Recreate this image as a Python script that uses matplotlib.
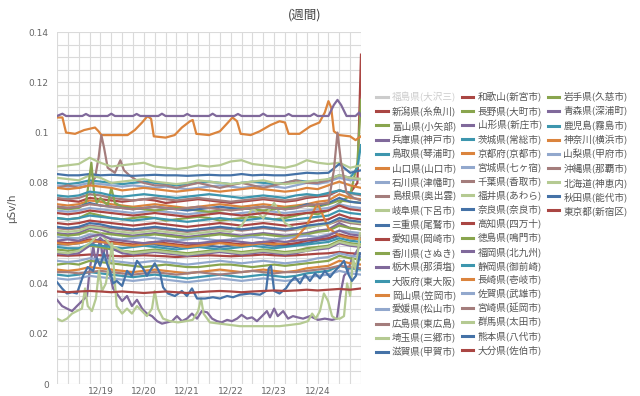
import matplotlib
matplotlib.use('Agg')
import matplotlib.pyplot as plt
from matplotlib.lines import Line2D

# time axis: hours since 12/18 00:00
H6 = list(range(0, 169, 6))
H_END = list(range(0, 163, 6)) + [166, 168]
day_ticks = [24, 48, 72, 96, 120, 144]
day_labels = ['12/19', '12/20', '12/21', '12/22', '12/23', '12/24']

# Highcharts (v2) default palette
palette = ['#4572A7', '#AA4643', '#89A54E', '#80699B', '#3D96AE',
           '#DB843D', '#92A8CD', '#A47D7C', '#B5CA92']

# ---- series values (uSv/h) ----
niigata = [0.0735, 0.073, 0.0725, 0.074, 0.0735, 0.073, 0.0725, 0.073, 0.0735, 0.073, 0.072, 0.0725, 0.073, 0.0735, 0.073,
           0.0725, 0.072, 0.0725, 0.073, 0.0735, 0.073, 0.0725, 0.073, 0.074, 0.0745, 0.075, 0.077, 0.076, 0.080, 0.131]
toyama = [0.066, 0.0655, 0.066, 0.068, 0.067, 0.066, 0.0655, 0.066, 0.0665, 0.066, 0.065, 0.0655, 0.066, 0.0665, 0.066,
          0.065, 0.0655, 0.066, 0.0665, 0.066, 0.0655, 0.066, 0.067, 0.068, 0.0675, 0.069, 0.072, 0.075, 0.088, 0.113]
hyogo = [0.060, 0.0595, 0.060, 0.062, 0.0615, 0.060, 0.0595, 0.059, 0.0595, 0.060, 0.0595, 0.059, 0.0585, 0.059, 0.0595,
         0.060, 0.0595, 0.059, 0.0595, 0.060, 0.0595, 0.059, 0.0595, 0.060, 0.061, 0.0615, 0.064, 0.062, 0.0615]
tottori = [0.080, 0.0795, 0.080, 0.081, 0.0805, 0.080, 0.0795, 0.080, 0.0805, 0.080, 0.0795, 0.079, 0.0795, 0.080, 0.0805,
           0.080, 0.0795, 0.080, 0.0805, 0.080, 0.0795, 0.080, 0.081, 0.0805, 0.080, 0.0815, 0.083, 0.082, 0.086, 0.095]
yamaguchi_h = [0, 3, 5, 10, 15, 18, 21, 23, 24.5, 32, 39, 43, 47, 50, 52, 53.5, 60, 65, 69, 73.5, 75, 77, 84, 90, 94.5,
               97, 99.5, 101.5, 107, 112, 118, 123, 126, 128, 134, 140, 145, 148, 150, 151.5, 153, 156, 162, 165, 168]
yamaguchi = [0.106, 0.106, 0.100, 0.0995, 0.101, 0.1015, 0.102, 0.1005, 0.099, 0.099, 0.099, 0.101, 0.104, 0.1065, 0.1055,
             0.0985, 0.098, 0.099, 0.102, 0.1045, 0.105, 0.0995, 0.099, 0.1005, 0.104, 0.106, 0.1045, 0.0995, 0.099, 0.1005,
             0.103, 0.1045, 0.104, 0.0995, 0.0995, 0.1025, 0.104, 0.108, 0.1125, 0.110, 0.1005, 0.099, 0.0985, 0.097, 0.0985]
ishikawa = [0.079, 0.0785, 0.079, 0.080, 0.0795, 0.079, 0.0785, 0.079, 0.0785, 0.078, 0.0785, 0.078, 0.0775, 0.078, 0.0785,
            0.079, 0.0785, 0.078, 0.0785, 0.079, 0.0785, 0.078, 0.079, 0.080, 0.0795, 0.0805, 0.082, 0.081, 0.0815]
shimane_h = [0, 6, 12, 18, 21, 23, 24.5, 26, 28, 30, 32, 35, 37, 40, 44, 48, 54, 60, 66, 72, 78, 84, 90, 96, 102, 108,
             114, 120, 126, 132, 138, 144, 150, 156, 162, 168]
shimane = [0.078, 0.079, 0.078, 0.079, 0.082, 0.090, 0.099, 0.094, 0.086, 0.085, 0.084, 0.089, 0.085, 0.083, 0.081, 0.080,
           0.079, 0.079, 0.078, 0.079, 0.080, 0.079, 0.078, 0.079, 0.080, 0.079, 0.078, 0.079, 0.080, 0.081, 0.080, 0.080,
           0.081, 0.083, 0.082, 0.0815]
gifu = [0.0865, 0.087, 0.0875, 0.090, 0.088, 0.0865, 0.087, 0.0875, 0.088, 0.0865, 0.086, 0.0855, 0.086, 0.087, 0.0865,
        0.087, 0.0885, 0.089, 0.0875, 0.087, 0.0865, 0.086, 0.087, 0.089, 0.088, 0.0875, 0.088, 0.086, 0.087]
mie = [0.0555, 0.0555, 0.056, 0.057, 0.0565, 0.056, 0.0555, 0.055, 0.0555, 0.0555, 0.055, 0.0545, 0.055, 0.0555, 0.055,
       0.0545, 0.055, 0.0555, 0.056, 0.0555, 0.055, 0.055, 0.0555, 0.056, 0.057, 0.0575, 0.059, 0.058, 0.0575]
aichi = [0.0512, 0.051, 0.0512, 0.0515, 0.0512, 0.051, 0.0508, 0.051, 0.0512, 0.051, 0.0508, 0.0505, 0.0508, 0.051, 0.0512,
         0.051, 0.0508, 0.051, 0.0512, 0.0515, 0.0512, 0.051, 0.0512, 0.0515, 0.0518, 0.052, 0.0525, 0.052, 0.0518]
kagawa = [0.0595, 0.059, 0.0595, 0.061, 0.060, 0.0595, 0.059, 0.0585, 0.059, 0.0595, 0.059, 0.0585, 0.058, 0.0585, 0.059,
          0.0595, 0.059, 0.0585, 0.059, 0.0595, 0.059, 0.0585, 0.059, 0.0595, 0.0605, 0.061, 0.063, 0.062, 0.0615]
tochigi_h = [0, 3, 5, 14, 16, 18, 28, 30, 32, 42, 44, 46, 56, 58, 60, 70, 72, 74, 84, 86, 88, 98, 100, 102, 112, 114, 116,
             126, 128, 130, 140, 142, 144, 150, 153, 155, 157, 160, 165, 167, 168]
tochigi = [0.1066, 0.1075, 0.1066, 0.1066, 0.1074, 0.1066, 0.1066, 0.1075, 0.1066, 0.1066, 0.1074, 0.1066,
           0.1066, 0.1075, 0.1066, 0.1066, 0.1074, 0.1066, 0.1066, 0.1075, 0.1066, 0.1066, 0.1074, 0.1066,
           0.1066, 0.1075, 0.1066, 0.1066, 0.1074, 0.1066, 0.1066, 0.1075, 0.1066,
           0.1066, 0.111, 0.113, 0.111, 0.1066, 0.1066, 0.108, 0.1066]
osaka = [0.066, 0.0655, 0.066, 0.067, 0.0665, 0.066, 0.0655, 0.065, 0.0655, 0.066, 0.0655, 0.065, 0.0645, 0.065, 0.0655,
         0.066, 0.0655, 0.065, 0.0655, 0.066, 0.0655, 0.065, 0.0655, 0.066, 0.0665, 0.067, 0.069, 0.068, 0.0675]
okayama = [0.0715, 0.071, 0.0715, 0.073, 0.0725, 0.0715, 0.071, 0.0705, 0.071, 0.0715, 0.071, 0.0705, 0.070, 0.0705, 0.071,
           0.0715, 0.071, 0.0705, 0.071, 0.0715, 0.071, 0.0705, 0.071, 0.0715, 0.0725, 0.073, 0.0755, 0.074, 0.0735]
ehime = [0.069, 0.0685, 0.069, 0.070, 0.0695, 0.069, 0.0685, 0.068, 0.0685, 0.069, 0.0685, 0.068, 0.0675, 0.068, 0.0685,
         0.068, 0.0675, 0.068, 0.0685, 0.069, 0.0685, 0.068, 0.0685, 0.069, 0.0695, 0.070, 0.0715, 0.0705, 0.070]
hiroshima = [0.074, 0.0735, 0.074, 0.0755, 0.075, 0.074, 0.0735, 0.073, 0.0735, 0.074, 0.0735, 0.073, 0.0735, 0.074, 0.0735,
             0.073, 0.0725, 0.073, 0.0735, 0.074, 0.0735, 0.073, 0.0735, 0.0745, 0.075, 0.0755, 0.077, 0.076, 0.075]
saitama = [0.082, 0.0815, 0.081, 0.083, 0.082, 0.080, 0.0805, 0.081, 0.0815, 0.0805, 0.080, 0.0795, 0.080, 0.081, 0.0805,
           0.080, 0.0795, 0.080, 0.0805, 0.081, 0.080, 0.0795, 0.080, 0.0805, 0.081, 0.0815, 0.083, 0.082, 0.0815]
shiga = [0.0835, 0.083, 0.083, 0.0835, 0.083, 0.0832, 0.083, 0.0828, 0.083, 0.0832, 0.083, 0.083, 0.0828, 0.083, 0.0832,
         0.083, 0.083, 0.0835, 0.083, 0.0832, 0.083, 0.083, 0.0835, 0.084, 0.0838, 0.084, 0.0875, 0.084, 0.085]
wakayama = [0.064, 0.0635, 0.064, 0.065, 0.0645, 0.064, 0.0635, 0.063, 0.0635, 0.064, 0.0635, 0.063, 0.0625, 0.063, 0.0635,
            0.064, 0.0635, 0.063, 0.0635, 0.064, 0.0635, 0.063, 0.0635, 0.064, 0.065, 0.0655, 0.0675, 0.066, 0.0655]
nagano_h = [0, 6, 12, 16, 17.5, 19, 20.5, 22, 24, 28, 30, 32, 36, 42, 48, 54, 60, 66, 72, 78, 84, 90, 96, 102, 108, 114,
            120, 126, 132, 138, 144, 150, 156, 162, 168]
nagano = [0.070, 0.0695, 0.070, 0.072, 0.080, 0.088, 0.076, 0.072, 0.074, 0.071, 0.078, 0.072, 0.0705, 0.070, 0.0695,
          0.069, 0.0695, 0.070, 0.0695, 0.069, 0.0685, 0.069, 0.0695, 0.070, 0.0695, 0.069, 0.0695, 0.070, 0.0705, 0.071,
          0.0705, 0.0715, 0.073, 0.0725, 0.072]
yamagata_h = [0, 2.8, 5.5, 8.3, 11, 13.8, 16.6, 18, 20, 21.5, 23.8, 25.4, 27, 28.7, 31, 33, 36, 38.7, 41.4, 44.2, 47,
              49.7, 52.5, 55.3, 58, 60.8, 63.6, 66.3, 69, 71.8, 74.6, 77.4, 80, 83, 85.7, 88.4, 91, 94, 96.7, 99.5, 102,
              105, 107.8, 110.5, 113.3, 116, 117.7, 120, 122, 125, 127.7, 130.4, 133, 136, 139.8, 144.2, 148, 152,
              154.7, 156.4, 158.6, 160.8, 163, 165, 167.4]
yamagata = [0.0335, 0.031, 0.030, 0.029, 0.031, 0.033, 0.035, 0.045, 0.055, 0.048, 0.058, 0.050, 0.057, 0.045, 0.038,
            0.036, 0.033, 0.035, 0.031, 0.0335, 0.030, 0.028, 0.027, 0.025, 0.024, 0.0245, 0.025, 0.027, 0.025, 0.026,
            0.028, 0.026, 0.029, 0.0285, 0.026, 0.025, 0.0245, 0.0255, 0.025, 0.026, 0.0275, 0.026, 0.0265, 0.025,
            0.027, 0.029, 0.0265, 0.030, 0.027, 0.029, 0.026, 0.027, 0.0265, 0.026, 0.027, 0.0255, 0.026, 0.0255,
            0.026, 0.035, 0.043, 0.045, 0.050, 0.052, 0.055]
ibaraki = [0.075, 0.0745, 0.075, 0.0765, 0.076, 0.075, 0.0745, 0.075, 0.0755, 0.075, 0.0745, 0.074, 0.0745, 0.075, 0.0755,
           0.075, 0.0745, 0.074, 0.0745, 0.075, 0.0745, 0.074, 0.075, 0.0755, 0.075, 0.076, 0.077, 0.076, 0.0755]
kyoto = [0.078, 0.0775, 0.078, 0.079, 0.0785, 0.078, 0.077, 0.0775, 0.078, 0.0775, 0.077, 0.0765, 0.077, 0.0775, 0.077,
         0.0765, 0.077, 0.0775, 0.078, 0.0775, 0.077, 0.0765, 0.077, 0.078, 0.0775, 0.079, 0.0805, 0.079, 0.078]
miyagi = [0.0585, 0.058, 0.058, 0.0595, 0.059, 0.058, 0.0575, 0.058, 0.0585, 0.058, 0.0575, 0.057, 0.0575, 0.058, 0.0575,
          0.057, 0.0575, 0.058, 0.0585, 0.058, 0.0575, 0.058, 0.0585, 0.059, 0.0585, 0.0595, 0.061, 0.0605, 0.060]
chiba = [0.062, 0.0615, 0.062, 0.063, 0.0625, 0.062, 0.0615, 0.061, 0.0615, 0.062, 0.0615, 0.061, 0.0605, 0.061, 0.0615,
         0.062, 0.0615, 0.061, 0.0615, 0.062, 0.0615, 0.061, 0.0615, 0.062, 0.063, 0.0635, 0.065, 0.064, 0.0635]
fukui = [0.061, 0.0605, 0.061, 0.0625, 0.062, 0.061, 0.0605, 0.060, 0.0605, 0.061, 0.0605, 0.060, 0.0595, 0.060, 0.0605,
         0.061, 0.0605, 0.063, 0.070, 0.066, 0.072, 0.064, 0.0615, 0.062, 0.063, 0.0635, 0.066, 0.0645, 0.064]
nara = [0.0705, 0.070, 0.0705, 0.072, 0.071, 0.0705, 0.070, 0.0695, 0.070, 0.0705, 0.070, 0.0695, 0.069, 0.0695, 0.070,
        0.0705, 0.070, 0.0695, 0.070, 0.0705, 0.070, 0.0695, 0.070, 0.0715, 0.071, 0.072, 0.074, 0.0725, 0.072]
kochi = [0.0565, 0.056, 0.0565, 0.0575, 0.057, 0.0565, 0.056, 0.0555, 0.056, 0.0565, 0.056, 0.0555, 0.055, 0.0555, 0.056,
         0.0565, 0.056, 0.0555, 0.056, 0.0565, 0.056, 0.0555, 0.056, 0.057, 0.0575, 0.058, 0.0595, 0.0585, 0.058]
tokushima = [0.0535, 0.053, 0.0535, 0.055, 0.0545, 0.0535, 0.053, 0.0525, 0.053, 0.0535, 0.053, 0.0525, 0.052, 0.0525,
             0.053, 0.0535, 0.053, 0.0525, 0.053, 0.0535, 0.053, 0.0525, 0.053, 0.054, 0.0545, 0.055, 0.057, 0.056, 0.0555]
fukuoka = [0.052, 0.0515, 0.052, 0.055, 0.058, 0.054, 0.052, 0.0515, 0.052, 0.0525, 0.052, 0.0515, 0.051, 0.0515, 0.052,
           0.0525, 0.052, 0.0515, 0.052, 0.0525, 0.052, 0.0515, 0.052, 0.053, 0.0535, 0.054, 0.056, 0.055, 0.0545]
shizuoka = [0.0545, 0.054, 0.054, 0.0555, 0.055, 0.0545, 0.054, 0.0545, 0.055, 0.0545, 0.054, 0.0535, 0.054, 0.0545, 0.054,
            0.0535, 0.054, 0.0545, 0.055, 0.0545, 0.054, 0.0545, 0.055, 0.0555, 0.056, 0.0565, 0.058, 0.057, 0.0565]
nagasaki = [0.056, 0.0555, 0.056, 0.057, 0.0565, 0.056, 0.0555, 0.055, 0.0555, 0.056, 0.0555, 0.055, 0.0545, 0.055, 0.0555,
            0.056, 0.0555, 0.055, 0.0555, 0.056, 0.0555, 0.056, 0.058, 0.063, 0.072, 0.062, 0.059, 0.058, 0.0575]
saga = [0.042, 0.0415, 0.042, 0.043, 0.0425, 0.042, 0.0415, 0.041, 0.0415, 0.042, 0.0415, 0.041, 0.0405, 0.041, 0.0415,
        0.042, 0.0415, 0.041, 0.0415, 0.042, 0.0415, 0.041, 0.0415, 0.0425, 0.043, 0.0435, 0.045, 0.044, 0.0435]
miyazaki_h = list(range(0, 151, 6)) + [153, 155, 157, 160, 164, 168]
miyazaki = [0.0705, 0.070, 0.0705, 0.0715, 0.071, 0.0705, 0.070, 0.0695, 0.070, 0.0705, 0.070, 0.0695, 0.070, 0.0705,
            0.070, 0.0695, 0.069, 0.0695, 0.070, 0.0705, 0.070, 0.0695, 0.070, 0.071, 0.0715, 0.072,
            0.085, 0.100, 0.088, 0.076, 0.074, 0.073]
gunma = [0.0525, 0.052, 0.053, 0.056, 0.060, 0.055, 0.053, 0.052, 0.0525, 0.053, 0.0525, 0.052, 0.0515, 0.052, 0.0525,
         0.053, 0.0525, 0.052, 0.0525, 0.053, 0.0525, 0.052, 0.0525, 0.053, 0.054, 0.0545, 0.0565, 0.0555, 0.055]
kumamoto = [0.0625, 0.062, 0.0625, 0.064, 0.0635, 0.0625, 0.062, 0.0615, 0.062, 0.0625, 0.062, 0.0615, 0.061, 0.0615, 0.062,
            0.0625, 0.062, 0.0615, 0.062, 0.0625, 0.062, 0.0615, 0.062, 0.063, 0.0635, 0.064, 0.066, 0.065, 0.0645]
oita = [0.068, 0.0675, 0.068, 0.069, 0.0685, 0.068, 0.0675, 0.067, 0.0675, 0.068, 0.0675, 0.067, 0.0665, 0.067, 0.0675,
        0.068, 0.0675, 0.067, 0.0675, 0.068, 0.0675, 0.067, 0.0675, 0.068, 0.0685, 0.069, 0.071, 0.0695, 0.069]
iwate = [0.0475, 0.048, 0.0475, 0.049, 0.0485, 0.048, 0.0475, 0.047, 0.0465, 0.047, 0.0475, 0.047, 0.0465, 0.0465, 0.047,
         0.0475, 0.0475, 0.047, 0.0465, 0.047, 0.0475, 0.047, 0.0475, 0.048, 0.0485, 0.049, 0.051, 0.050, 0.0495]
aomori = [0.057, 0.0575, 0.057, 0.0585, 0.0595, 0.0575, 0.057, 0.0565, 0.056, 0.0565, 0.057, 0.0565, 0.056, 0.056, 0.0565,
          0.057, 0.057, 0.0565, 0.056, 0.0565, 0.057, 0.0565, 0.057, 0.0575, 0.058, 0.059, 0.061, 0.0595, 0.059]
kagoshima = [0.0435, 0.043, 0.0435, 0.0445, 0.044, 0.0435, 0.043, 0.0425, 0.043, 0.0435, 0.043, 0.0425, 0.042, 0.0425,
             0.043, 0.0435, 0.043, 0.0425, 0.043, 0.0435, 0.043, 0.0425, 0.043, 0.044, 0.0445, 0.045, 0.047, 0.046, 0.0455]
kanagawa = [0.0455, 0.045, 0.0455, 0.0465, 0.046, 0.0455, 0.045, 0.0445, 0.045, 0.0455, 0.045, 0.0445, 0.044, 0.0445,
            0.045, 0.0455, 0.045, 0.0445, 0.045, 0.0455, 0.045, 0.0445, 0.045, 0.046, 0.0465, 0.047, 0.049, 0.048, 0.0475]
yamanashi = [0.049, 0.0485, 0.049, 0.050, 0.0495, 0.049, 0.0485, 0.048, 0.0485, 0.049, 0.0485, 0.048, 0.0475, 0.048,
             0.0485, 0.049, 0.0485, 0.048, 0.0485, 0.049, 0.0485, 0.048, 0.0485, 0.049, 0.050, 0.0505, 0.052, 0.051, 0.0505]
okinawa = [0.0445, 0.0445, 0.044, 0.0445, 0.045, 0.0445, 0.044, 0.0435, 0.044, 0.0445, 0.044, 0.0435, 0.044, 0.0445, 0.044,
           0.0435, 0.044, 0.0445, 0.045, 0.0445, 0.044, 0.0445, 0.0445, 0.045, 0.0455, 0.046, 0.047, 0.0465, 0.046]
hokkaido_h = [0, 2.8, 5.5, 8.3, 11, 13.8, 15.5, 17, 19.3, 21.5, 23.2, 24.9, 27, 29.3, 30.4, 31.5, 33, 36, 38.7, 41.4,
              44.2, 47, 49.7, 52.5, 54, 55.8, 58.6, 62.4, 66.9, 71.3, 75, 78, 79.6, 81, 84.5, 90, 95.6, 101, 106.7,
              112.2, 117.7, 123, 128.8, 134.3, 138.7, 141, 143, 145.3, 147.5, 149.8, 152, 154, 156.4, 158.6, 160.3,
              162, 163.6, 165.2, 167.4]
hokkaido = [0.026, 0.025, 0.026, 0.028, 0.029, 0.030, 0.038, 0.031, 0.029, 0.034, 0.045, 0.037, 0.040, 0.050, 0.056,
            0.045, 0.031, 0.028, 0.030, 0.028, 0.031, 0.029, 0.027, 0.030, 0.037, 0.030, 0.026, 0.025, 0.0245, 0.025,
            0.0255, 0.029, 0.034, 0.028, 0.0245, 0.024, 0.0235, 0.023, 0.023, 0.023, 0.023, 0.023, 0.0235, 0.024,
            0.025, 0.028, 0.026, 0.029, 0.036, 0.033, 0.027, 0.026, 0.026, 0.027, 0.040, 0.035, 0.050, 0.045, 0.060]
akita_h = [0, 2.8, 5.5, 8.3, 11, 14.4, 17, 20, 22, 23.8, 26, 27.6, 29.3, 31, 33, 36, 38.7, 41.4, 44.2, 47.5, 49.7,
           51.4, 54, 57, 58.6, 61.3, 65.2, 69, 71.8, 74.6, 77.4, 81.8, 86.2, 90, 94, 97.3, 101, 106.7, 112.2, 115.5,
           117, 118.3, 120, 123, 126.5, 128.8, 131.5, 134.3, 137, 139.8, 142.6, 145.3, 148, 150.9, 153.6, 156.4,
           158.6, 160.8, 163, 165.2, 167.4]
akita = [0.0405, 0.038, 0.036, 0.0365, 0.036, 0.043, 0.0465, 0.045, 0.050, 0.047, 0.052, 0.048, 0.045, 0.040, 0.041,
         0.039, 0.045, 0.043, 0.049, 0.046, 0.043, 0.045, 0.048, 0.044, 0.0385, 0.036, 0.035, 0.037, 0.035, 0.038,
         0.034, 0.034, 0.0345, 0.034, 0.035, 0.0345, 0.0355, 0.036, 0.0355, 0.037, 0.046, 0.047, 0.037, 0.036, 0.038,
         0.0405, 0.0425, 0.040, 0.0435, 0.041, 0.044, 0.042, 0.045, 0.0425, 0.045, 0.047, 0.049, 0.044, 0.041, 0.043,
         0.052]
tokyo = [0.0368, 0.0365, 0.0368, 0.037, 0.0368, 0.0365, 0.0368, 0.0365, 0.0362, 0.0365, 0.0368, 0.0365, 0.0362, 0.0365,
         0.0368, 0.037, 0.0368, 0.0365, 0.0368, 0.037, 0.0372, 0.037, 0.0372, 0.0375, 0.0372, 0.0375, 0.0378, 0.0375, 0.038]

# legend order (column-major, 19 rows); first entry is a hidden series
series = [
    ('福島県(大沢三)', None, None),
    ('新潟県(糸魚川)', H_END, niigata),
    ('富山県(小矢部)', H_END, toyama),
    ('兵庫県(神戸市)', H6, hyogo),
    ('鳥取県(琴浦町)', H_END, tottori),
    ('山口県(山口市)', yamaguchi_h, yamaguchi),
    ('石川県(津幡町)', H6, ishikawa),
    ('島根県(奥出雲)', shimane_h, shimane),
    ('岐阜県(下呂市)', H6, gifu),
    ('三重県(尾鷲市)', H6, mie),
    ('愛知県(岡崎市)', H6, aichi),
    ('香川県(さぬき)', H6, kagawa),
    ('栃木県(那須塩)', tochigi_h, tochigi),
    ('大阪府(東大阪)', H6, osaka),
    ('岡山県(笠岡市)', H6, okayama),
    ('愛媛県(松山市)', H6, ehime),
    ('広島県(東広島)', H6, hiroshima),
    ('埼玉県(三郷市)', H6, saitama),
    ('滋賀県(甲賀市)', H6, shiga),
    ('和歌山(新宮市)', H6, wakayama),
    ('長野県(大町市)', nagano_h, nagano),
    ('山形県(新庄市)', yamagata_h, yamagata),
    ('茨城県(常総市)', H6, ibaraki),
    ('京都府(京都市)', H6, kyoto),
    ('宮城県(七ヶ宿)', H6, miyagi),
    ('千葉県(香取市)', H6, chiba),
    ('福井県(あわら)', H6, fukui),
    ('奈良県(奈良市)', H6, nara),
    ('高知県(四万十)', H6, kochi),
    ('徳島県(鳴門市)', H6, tokushima),
    ('福岡県(北九州)', H6, fukuoka),
    ('静岡県(御前崎)', H6, shizuoka),
    ('長崎県(壱岐市)', H6, nagasaki),
    ('佐賀県(武雄市)', H6, saga),
    ('宮崎県(延岡市)', miyazaki_h, miyazaki),
    ('群馬県(太田市)', H6, gunma),
    ('熊本県(八代市)', H6, kumamoto),
    ('大分県(佐伯市)', H6, oita),
    ('岩手県(久慈市)', H6, iwate),
    ('青森県(深浦町)', H6, aomori),
    ('鹿児島(霧島市)', H6, kagoshima),
    ('神奈川(横浜市)', H6, kanagawa),
    ('山梨県(甲府市)', H6, yamanashi),
    ('沖縄県(那覇市)', H6, okinawa),
    ('北海道(神恵内)', hokkaido_h, hokkaido),
    ('秋田県(能代市)', akita_h, akita),
    ('東京都(新宿区)', H6, tokyo),
]

cjk = ['Noto Sans CJK JP', 'DejaVu Sans']

fig = plt.figure(figsize=(6.4, 3.96), dpi=100)
ax = fig.add_axes([57/640, 1 - 384/396, (361 - 57)/640, (384 - 32)/396])

handles = []
labels = []
for i, (lab, hrs, vals) in enumerate(series):
    col = palette[i % 9]
    if vals is None:
        handles.append(Line2D([], [], color='#CCCCCC', lw=2.2))
    else:
        ax.plot(hrs, vals, color=col, lw=1.6, solid_joinstyle='round')
        handles.append(Line2D([], [], color=col, lw=2.2))
    labels.append(lab)
# pad so the columns split 19 / 19 / 9
while len(handles) < 57:
    handles.append(Line2D([], [], color='none'))
    labels.append('')

ax.set_xlim(0, 168)
ax.set_ylim(0, 0.14)
ax.set_xticks(day_ticks)
ax.set_xticklabels(day_labels)
ax.set_xticks(range(0, 169, 6), minor=True)
ax.set_yticks([0, 0.02, 0.04, 0.06, 0.08, 0.10, 0.12, 0.14])
ax.set_yticklabels(['0', '0.02', '0.04', '0.06', '0.08', '0.1', '0.12', '0.14'])
ax.set_yticks([i * 0.005 for i in range(29)], minor=True)
ax.grid(which='both', color='#DADADA', lw=0.8)
ax.set_axisbelow(True)
ax.tick_params(which='both', length=0)
ax.tick_params(axis='y', labelsize=6.5, labelcolor='#666666', pad=6)
ax.tick_params(axis='x', labelsize=6.5, labelcolor='#666666', pad=1.5)
for s in ax.spines.values():
    s.set_visible(False)

fig.text(12/640, 1 - 208/396, 'μSv/h', rotation=90, ha='center', va='center',
         fontsize=7.5, color='#555555')
fig.text(305/640, 1 - 15/396, '(週間)', ha='center', va='center',
         fontsize=9, color='#444444', family=cjk)

leg = fig.legend(handles, labels, ncol=3, loc='upper left',
                 bbox_to_anchor=(376/640, 1 - 92/396), frameon=False,
                 prop={'family': cjk, 'size': 6.9}, handlelength=1.2,
                 handletextpad=0.45, columnspacing=0.6, labelspacing=0.43,
                 borderpad=0, borderaxespad=0)
for t in leg.get_texts():
    t.set_color('#555555')
leg.get_texts()[0].set_color('#CCCCCC')

fig.savefig('out.png', dpi=100)
